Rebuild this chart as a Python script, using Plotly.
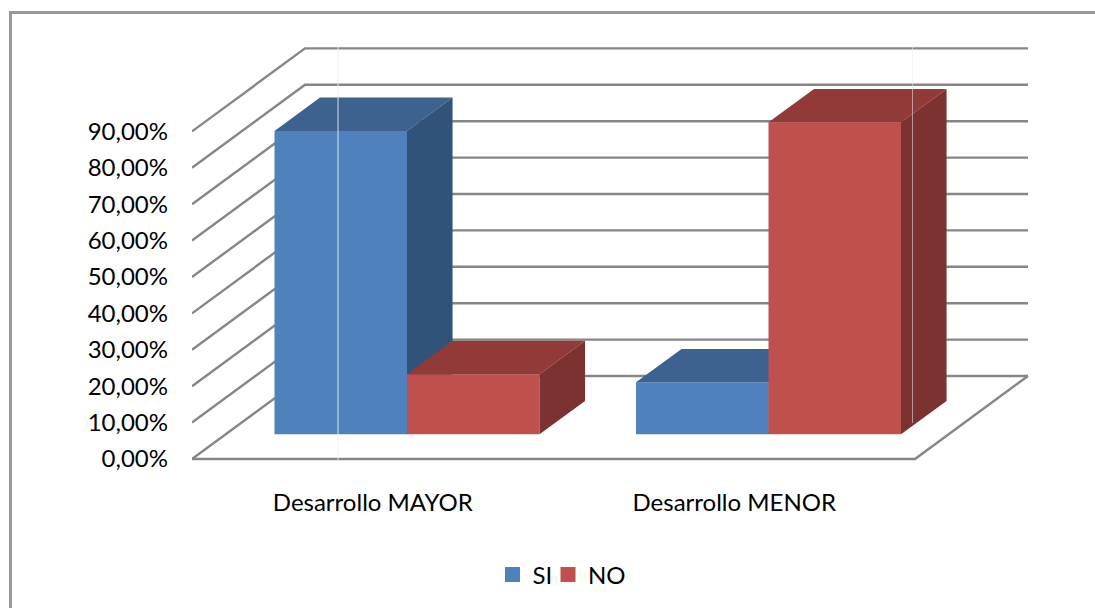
import plotly.graph_objects as go

# ---- data
categories = ["Desarrollo MAYOR", "Desarrollo MENOR"]
si_values = [83.33, 14.29]
no_values = [16.5, 85.71]
tick_values = [0, 10, 20, 30, 40, 50, 60, 70, 80, 90]
tick_labels = ["0,00%", "10,00%", "20,00%", "30,00%", "40,00%", "50,00%",
               "60,00%", "70,00%", "80,00%", "90,00%"]

# ---- layout constants (page pixels)
W, H = 1095, 608
PLOT_L, PLOT_B = 192, 470
ZERO_PY = 459
PX_PER_PCT = 3.64
PX_PER_CAT = 361.5
WALL_DX = 113 / PX_PER_CAT   # depth of the floor in x units
WALL_DY = 83 / PX_PER_PCT    # depth of the floor in y units
NEAR, FAR = 0.297, 0.7       # where the bars sit in that depth
BAR_W = 132.5 / PX_PER_CAT
BAR_SHIFT = 0.7 / PX_PER_CAT
X_RANGE = [-0.5, -0.5 + (W - PLOT_L) / PX_PER_CAT]
Y_RANGE = [(ZERO_PY - PLOT_B) / PX_PER_PCT, ZERO_PY / PX_PER_PCT]
X_END = len(categories) - 0.5

FONT = "Lato"
FSIZE = 24
GRID = "#868686"
SI_C = ("#4F81BD", "#3D6290", "#325379")
NO_C = ("#C0504D", "#913A38", "#7B3231")


def project(x, v, d):
    """Oblique projection of (x, value, depth 0..1) onto the axes."""
    return x + d * WALL_DX, v + d * WALL_DY


def polygons(faces):
    xs, ys = [], []
    for face in faces:
        pts = [project(*p) for p in face]
        pts.append(pts[0])
        xs += [p[0] for p in pts] + [None]
        ys += [p[1] for p in pts] + [None]
    return xs, ys


def add_series(fig, name, values, colors, left_off, axis, legend):
    xa, ya = ("x", "y") if axis == 1 else (f"x{axis}", f"y{axis}")
    # front face: a real bar on the value axis
    fx = [project(i + BAR_SHIFT, 0, NEAR)[0] for i in range(len(values))]
    fig.add_trace(go.Bar(
        x=fx, y=values, base=[NEAR * WALL_DY] * len(values),
        width=BAR_W, offset=left_off * BAR_W, name=name, showlegend=False,
        marker=dict(color=colors[0], line=dict(width=0)),
        xaxis=xa, yaxis=ya, hoverinfo="y"))
    top, side = [], []
    for i, v in enumerate(values):
        l = i + BAR_SHIFT + left_off * BAR_W
        r = l + BAR_W
        top.append([(l, v, NEAR), (r, v, NEAR), (r, v, FAR), (l, v, FAR)])
        side.append([(r, 0, NEAR), (r, v, NEAR), (r, v, FAR), (r, 0, FAR)])
    for faces, col in ((top, colors[1]), (side, colors[2])):
        xs, ys = polygons(faces)
        fig.add_trace(go.Scatter(
            x=xs, y=ys, mode="lines", fill="toself", fillcolor=col,
            line=dict(width=0, color=col), showlegend=False,
            hoverinfo="skip", xaxis=xa, yaxis=ya))
    # legend key
    fig.add_trace(go.Scatter(
        x=[None], y=[None], mode="markers", name=name, xaxis=xa, yaxis=ya,
        legend=legend,
        marker=dict(symbol="square", size=15, color=colors[0], line=dict(width=0))))


fig = go.Figure()

# walls and floor
wall_x, wall_y = [], []
for v in tick_values:
    a = project(X_RANGE[0], v, 0)
    b = project(X_RANGE[0], v, 1)
    c = project(X_END, v, 1)
    wall_x += [a[0], b[0], c[0], None]
    wall_y += [a[1], b[1], c[1], None]
floor = [project(X_RANGE[0], 0, 0), project(X_END, 0, 0), project(X_END, 0, 1)]
wall_x += [p[0] for p in floor]
wall_y += [p[1] for p in floor]
fig.add_trace(go.Scatter(x=wall_x, y=wall_y, mode="lines", showlegend=False,
                         line=dict(color=GRID, width=2.4), hoverinfo="skip"))

add_series(fig, "SI", si_values, SI_C, -1, 2, "legend")
add_series(fig, "NO", no_values, NO_C, 0, 3, "legend2")


def xpaper(p):
    return (p - PLOT_L) / (W - PLOT_L)


def ypaper(p):
    return (PLOT_B - p) / PLOT_B


def rule(x0, y0, x1, y1, color, width):
    return dict(type="line", xref="paper", yref="paper",
                x0=xpaper(x0), x1=xpaper(x1), y0=ypaper(y0), y1=ypaper(y1),
                line=dict(color=color, width=width))


shapes = [
    rule(9.5, 12.5, W, 12.5, "#989898", 3),
    rule(10.5, 11, 10.5, H, "#989898", 3),
    rule(338, 46, 338, 461, "rgba(238,238,238,0.9)", 1),
    rule(912.5, 46, 912.5, 423, "rgba(235,235,235,0.55)", 1),
]

hidden = dict(range=X_RANGE, visible=False, fixedrange=True)
hiddeny = dict(range=Y_RANGE, visible=False, fixedrange=True)


def legend_at(px):
    return dict(orientation="h", xref="paper", yref="paper",
                x=xpaper(px), xanchor="left", y=ypaper(575), yanchor="middle",
                font=dict(family=FONT, size=FSIZE), bgcolor="rgba(0,0,0,0)",
                itemwidth=30)


fig.update_layout(
    width=W, height=H, autosize=False,
    margin=dict(l=PLOT_L, r=0, t=0, b=H - PLOT_B, pad=0),
    paper_bgcolor="white", plot_bgcolor="rgba(0,0,0,0)",
    barmode="overlay",
    font=dict(family=FONT, size=FSIZE, color="#000000"),
    shapes=shapes,
    xaxis=dict(range=X_RANGE, tickmode="array", tickvals=[0, 1], ticktext=categories,
               showgrid=False, zeroline=False, showline=False, ticks="",
               ticklabelstandoff=16, fixedrange=True),
    yaxis=dict(range=Y_RANGE, tickmode="array", tickvals=tick_values, ticktext=tick_labels,
               showgrid=False, zeroline=False, showline=False, ticks="",
               ticklabelstandoff=23, fixedrange=True),
    xaxis2=dict(overlaying="x", **hidden),
    yaxis2=dict(overlaying="y", **hiddeny),
    xaxis3=dict(overlaying="x", **hidden),
    yaxis3=dict(overlaying="y", **hiddeny),
    legend=legend_at(492.5),
    legend2=legend_at(548),
)

fig.write_html("out.html", config={"displayModeBar": False},
               post_script="document.body.style.margin='0';")
